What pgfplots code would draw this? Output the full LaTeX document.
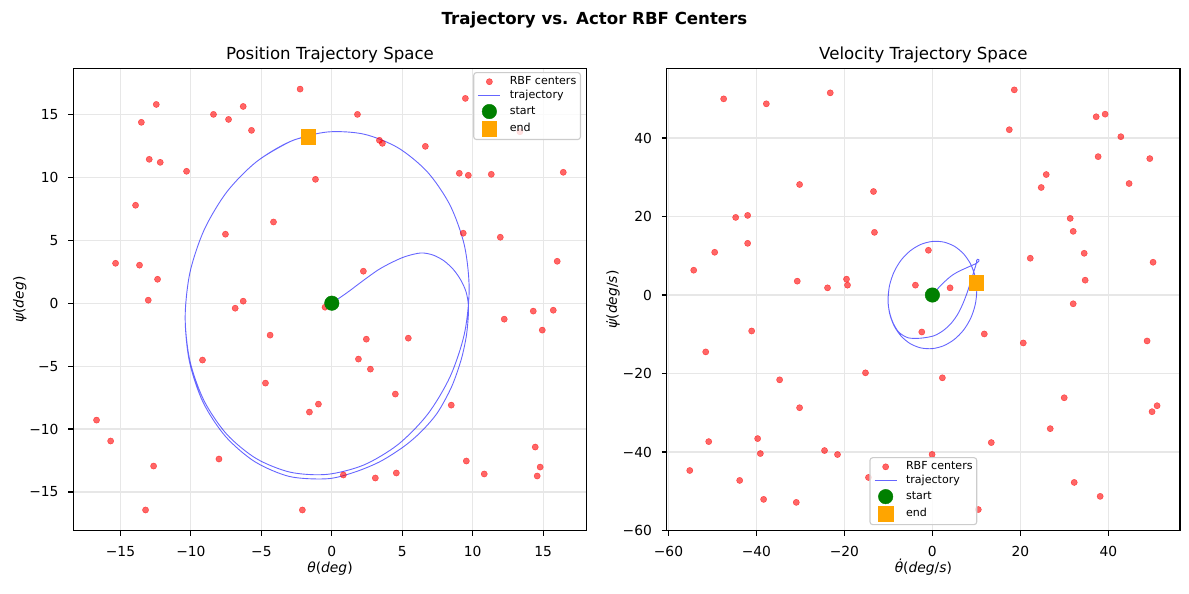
\documentclass[border=0pt]{standalone}
\usepackage{fontspec}
\setmainfont{DejaVu Sans}[ItalicFont={DejaVu Sans Oblique},BoldFont={DejaVu Sans Bold}]
\usepackage{pgfplots}
\pgfplotsset{compat=1.18}
\usepackage{pgfplotstable}

\definecolor{mplgreen}{RGB}{0,128,0}
\definecolor{mplorange}{RGB}{255,165,0}
\definecolor{gridgray}{RGB}{231,231,231}
\definecolor{legendedge}{RGB}{204,204,204}

% actor RBF centres in position space (deg)
\pgfplotstableread{
x y
-2.25 17.01
-12.46 15.79
-6.29 15.63
-8.40 15.00
-13.52 14.37
-7.33 14.60
-5.70 13.73
-12.96 11.43
-12.18 11.19
-10.31 10.48
-1.16 9.84
-13.93 7.78
-4.14 6.45
-7.55 5.48
-15.35 3.17
-13.65 3.02
-12.37 1.90
-13.03 0.24
-6.29 0.16
9.48 16.27
1.82 15.00
13.35 13.62
3.38 12.94
3.59 12.70
6.64 12.46
9.05 10.32
9.69 10.16
11.32 10.24
16.43 10.40
9.33 5.56
11.96 5.24
16.00 3.33
2.24 2.54
-6.86 -0.40
-0.48 -0.32
-4.38 -2.54
-9.18 -4.52
-4.71 -6.35
-0.95 -8.02
-1.59 -8.65
-16.70 -9.29
-15.70 -10.95
-8.01 -12.38
-12.65 -12.94
-13.22 -16.43
-2.09 -16.43
2.45 -2.86
5.43 -2.78
1.89 -4.44
2.74 -5.24
4.51 -7.22
8.48 -8.10
12.24 -1.27
14.30 -0.63
15.72 -0.56
14.94 -2.14
14.44 -11.43
14.79 -13.02
14.58 -13.73
9.55 -12.54
10.82 -13.57
4.58 -13.49
3.09 -13.89
0.82 -13.65
}\posrbf

% actor RBF centres in velocity space (deg/s)
\pgfplotstableread{
x y
-47.45 49.97
-37.75 48.71
-23.22 51.50
-30.19 28.15
-13.39 26.37
-44.72 19.77
-42.00 20.28
-13.17 15.96
-42.00 13.17
-49.49 10.89
-54.26 6.32
-30.72 3.53
-23.84 1.83
-19.52 4.04
-19.30 2.51
-3.86 2.51
-0.91 11.40
18.62 52.26
17.48 42.11
37.23 45.41
39.27 46.07
42.84 40.33
37.68 35.25
49.42 34.75
25.88 30.69
24.74 27.39
44.72 28.40
31.33 19.52
32.01 16.22
22.25 9.37
34.51 10.63
50.17 8.35
34.73 3.78
4.02 1.83
32.01 -2.23
-41.09 -9.16
-51.53 -14.49
-2.41 -9.42
-15.21 -19.82
-34.73 -21.60
-30.19 -28.71
-50.85 -37.34
-39.73 -36.57
-39.11 -40.38
-24.52 -39.62
-21.57 -40.63
-55.16 -44.70
-43.81 -47.23
-38.37 -52.06
-30.94 -52.82
-14.53 -46.47
-0.07 -40.61
11.80 -9.92
20.66 -12.21
48.81 -11.70
2.27 -21.09
29.97 -26.17
51.08 -28.20
49.94 -29.72
26.79 -34.04
13.39 -37.59
32.24 -47.74
38.14 -51.29
10.44 -54.65
}\velrbf

\pgfplotsset{
  panel/.style={
    scale only axis, width=371pt, height=334.2pt,
    anchor=south west,
    axis line style={line width=0.8pt},
    tick align=outside, xtick pos=left, ytick pos=left,
    major tick length=3.5pt,
    every tick/.style={black, line width=0.8pt},
    grid=major, major grid style={gridgray, line width=0.8pt},
    tick label style={font=\fontsize{10}{12}\selectfont},
    xticklabel style={anchor=base, yshift=-14.8pt},
    yticklabel style={anchor=east, inner sep=0pt, xshift=-7pt},
    label style={font=\fontsize{10}{12}\selectfont},
    xlabel style={at={(axis description cs:0.5,-0.090)}, anchor=base},
    ylabel style={at={(axis description cs:-0.097,0.5)}, anchor=base},
    every axis title/.style={at={(axis description cs:0.5,1.0195)},
      anchor=base, font=\fontsize{12}{14}\selectfont},
    legend cell align=left,
    legend image code/.code={\draw[mark repeat=2,mark phase=2,#1]
      plot coordinates {(0pt,0pt) (8pt,0pt) (16pt,0pt)};},
    legend style={font=\fontsize{8}{9.6}\selectfont,
      draw=legendedge, line width=0.8pt, rounded corners=2pt,
      fill=white, fill opacity=0.8, text opacity=1, draw opacity=1,
      inner xsep=3pt, inner ysep=2.5pt, row sep=2.0pt,
      nodes={inner sep=0pt, text height=6pt, text depth=2.2pt},
      /tikz/every odd column/.append style={column sep=6.4pt}},
  },
  rbf/.style={only marks, mark=*, mark size=2.25pt, color=red,
    mark options={fill=red, draw=red, line width=0.3pt,
      fill opacity=0.6, draw opacity=0.6}},
  traj/.style={blue, opacity=0.6, line width=0.65pt, smooth, no marks},
  startpt/.style={only marks, mark=*, mark size=5.25pt, color=mplgreen,
    mark options={fill=mplgreen, draw=mplgreen, line width=0.3pt,
      fill opacity=1, draw opacity=1}},
  endpt/.style={only marks, mark=square*, mark size=5.25pt, color=mplorange,
    mark options={fill=mplorange, draw=mplorange, line width=0.3pt,
      fill opacity=1, draw opacity=1}},
}

\begin{document}
\begin{tikzpicture}
\useasboundingbox (0,0) rectangle (859.3pt,428.6pt);
\node[anchor=base, font=\bfseries\fontsize{12}{14}\selectfont]
  at (429.65pt,411.2pt) {Trajectory vs. Actor RBF Centers};

% ---------------- position space ----------------
\begin{axis}[panel, at={(52.98pt,45.02pt)},
  xmin=-18.35, xmax=18.09, ymin=-18.08, ymax=18.66,
  xtick={-15,-10,-5,0,5,10,15}, xticklabels={−15,−10,−5,0,5,10,15},
  ytick={-15,-10,-5,0,5,10,15}, yticklabels={−15,−10,−5,0,5,10,15},
  title={Position Trajectory Space},
  xlabel={{\itshape θ}({\itshape deg})},
  ylabel={{\itshape ψ}({\itshape deg})},
  legend style={at={(axis description cs:0.989,0.992)}, anchor=north east},
]
\addplot[rbf] table {\posrbf};
\addlegendentry{RBF centers}
\addplot[traj] coordinates {
(0,0) (1.1,0.85) (2.29,1.85) (3.3,2.65) (4.19,3.2) (5.2,3.7) (6.32,3.99)
(7.2,3.82) (7.98,3.35) (8.65,2.65) (9.16,1.83) (9.5,1.0) (9.66,0.2)
(9.7,-0.8) (9.55,-2.6) (9.18,-4.5) (8.5,-6.65) (7.5,-8.7) (6.35,-10.2)
(5.1,-11.4) (3.4,-12.6) (1.55,-13.45) (-0.33,-13.95) (-3.0,-13.77)
(-5.47,-12.59) (-7.56,-10.57) (-9.15,-7.85) (-10.11,-4.62) (-10.41,-1.12)
(-10.07,2.44) (-9.06,5.83) (-7.46,8.83) (-5.37,11.22) (-2.94,12.85)
(-0.33,13.6) (2.28,13.43) (4.71,12.34) (6.80,10.41) (8.40,7.77)
(9.41,4.60) (9.75,1.12) (9.41,-2.44) (8.40,-5.83) (6.80,-8.83)
(4.71,-11.22) (2.28,-12.85) (-0.33,-13.6) (-2.94,-13.43) (-5.37,-12.34)
(-7.46,-10.41) (-9.06,-7.77) (-10.07,-4.60) (-10.41,-1.12) (-10.07,2.44)
(-9.06,5.83) (-7.46,8.83) (-5.37,11.22) (-2.94,12.85) (-1.68,13.23)
};
\addlegendentry{trajectory}
\addplot[startpt] coordinates {(0,0)};
\addlegendentry{start}
\addplot[endpt] coordinates {(-1.68,13.23)};
\addlegendentry{end}
\end{axis}

% ---------------- velocity space ----------------
\begin{axis}[panel, at={(481.83pt,45.02pt)},
  xmin=-60.4, xmax=56.3, ymin=-60.05, ymax=57.75,
  xtick={-60,-40,-20,0,20,40}, xticklabels={−60,−40,−20,0,20,40},
  ytick={-60,-40,-20,0,20,40}, yticklabels={−60,−40,−20,0,20,40},
  title={Velocity Trajectory Space},
  xlabel={{\itshape θ̇}({\itshape deg}/{\itshape s})},
  ylabel={{\itshape ψ̇}({\itshape deg}/{\itshape s})},
  legend style={at={(axis description cs:0.5,0.012)}, anchor=south},
]
\addplot[rbf] table {\velrbf};
\addlegendentry{RBF centers}
\addplot[traj] coordinates {
(0,0) (1.2,1.6) (2.5,3.1) (4.1,4.7) (5.6,5.8) (7.1,6.6) (8.5,7.3)
(9.6,7.85) (10.2,8.2) (10.55,8.6) (10.55,9.0) (10.25,9.1) (10.05,8.8)
(10.05,8.3) (9.85,7.5) (9.4,5.9) (8.7,3.4) (7.9,0.6) (6.9,-2.3)
(5.7,-5.0) (4.2,-7.3) (2.4,-9.1) (0.3,-10.4) (-2.7,-11.0) (-5.5,-10.9)
(-7.6,-9.5) (-8.9,-7.2) (-9.6,-5.0) (-10.0,-2.8)
(-10.08,-1.12) (-9.74,2.45) (-8.73,5.86) (-7.13,8.86) (-5.04,11.26)
(-2.61,12.90) (0,13.65) (2.61,13.48) (5.04,12.39) (7.13,10.44) (8.73,7.80)
(9.74,4.62) (10.08,1.12) (9.74,-2.45) (8.73,-5.86) (7.13,-8.86)
(5.04,-11.26) (2.61,-12.90) (0,-13.65) (-2.61,-13.48) (-5.04,-12.39)
(-7.13,-10.44) (-8.73,-7.80) (-9.74,-4.62) (-10.08,-1.12) (-9.74,2.45)
(-8.73,5.86) (-7.13,8.86) (-5.04,11.26) (-2.61,12.90) (0,13.65)
(2.61,13.48) (5.04,12.39) (7.13,10.44) (8.73,7.80) (9.74,4.62) (10.0,3.2)
};
\addlegendentry{trajectory}
\addplot[startpt] coordinates {(0,0)};
\addlegendentry{start}
\addplot[endpt] coordinates {(10.0,3.2)};
\addlegendentry{end}
\end{axis}
\end{tikzpicture}
\end{document}
